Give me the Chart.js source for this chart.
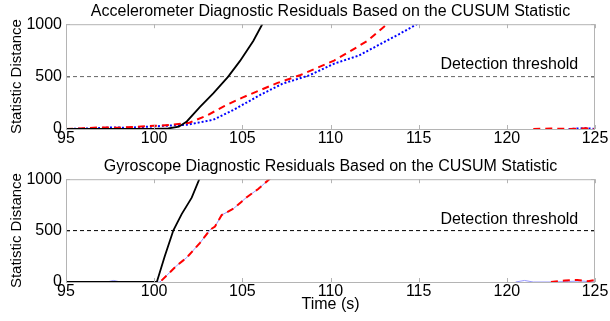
<!DOCTYPE html>
<html>
<head>
<meta charset="utf-8">
<script src="https://cdn.jsdelivr.net/npm/chart.js@4"></script>
<style>
  body { margin: 0; background: #fff; }
  .box { position: relative; width: 610px; }
  #top { height: 155px; }
  #bottom { height: 166px; }
</style>
</head>
<body>
<div class="box" id="top"><canvas id="accChart"></canvas></div>
<div class="box" id="bottom"><canvas id="gyrChart"></canvas></div>
<script>
// time axis and thresholds
const xTicks = [95, 100, 105, 110, 115, 120, 125];
const yTicks = [0, 500, 1000];
const threshold = 500;
const thresholdLabel = "Detection threshold";

// accelerometer residuals (top); null breaks the line
const accBlackT = [95, 100, 100.8, 101.4, 101.85, 102.6, 103.35, 104.2, 104.87, 105.62, 106.13, 106.4];
const accBlackY = [0, 0, 5, 22, 72, 210, 340, 500, 650, 840, 1000, 1060];
const accRedT = [95, 96, 97, 98, 99, 100, 101, 102, 103, 104, 105, 106, 107, 108.3, 109.2, 110.2, 111.1, 112.1, 113.2, 113.6, 113.7, 121.5, 122.5, 123.5, 124.5, 125];
const accRedY = [0, 8, 15, 12, 22, 30, 40, 60, 130, 220, 300, 370, 440, 515, 580, 653, 740, 842, 1000, 1050, null, 0, 5, 0, 6, 0];
const accBlueT = [95, 96.5, 97.5, 98.5, 99.5, 100.5, 101.85, 103.35, 104.5, 106, 107.3, 108.8, 110.2, 111.6, 113, 113.9, 114.9, 115.3, 115.4, 123.5, 124.5, 125];
const accBlueY = [0, 5, 15, 12, 20, 30, 40, 88, 182, 324, 434, 512, 623, 700, 826, 906, 1000, 1040, null, 0, 8, 0];

// gyroscope residuals (bottom)
const gyrBlackT = [95, 100.15, 100.6, 101.09, 101.56, 102.13, 102.56, 102.8];
const gyrBlackY = [0, 0, 250, 503, 660, 820, 1000, 1100];
const gyrRedT = [95, 100.33, 101.28, 101.85, 102.6, 103.17, 103.45, 103.83, 104.5, 105.25, 105.9, 106.53, 107, 107.1, 122.5, 123.3, 124, 124.6, 125];
const gyrRedY = [0, 0, 159, 238, 381, 508, 540, 651, 714, 825, 905, 1000, 1080, null, 0, 15, 20, 8, 18];
const gyrBlueT = [95, 97.3, 97.7, 98.1, 100.33, 101.28, 101.85, 102.6, 103.17, 103.45, 103.83, 104.5, 105.25, 105.9, 106.53, 107, 107.1, 120.5, 121, 121.5, 122.5, 123.5, 124.2, 125];
const gyrBlueY = [0, 0, 15, 0, 0, 159, 238, 381, 508, 540, 651, 714, 825, 905, 1000, 1080, null, 0, 15, 0, 0, 5, 10, 0];

const FONT = "'Liberation Sans', Arial, sans-serif";

function pts(t, y) {
  return t.map((v, i) => ({ x: v, y: y[i] }));
}

const framePlugin = {
  id: "frame",
  afterDatasetsDraw(chart) {
    const { ctx, chartArea: a, scales } = chart;
    ctx.save();
    ctx.font = "16px " + FONT;
    ctx.fillStyle = "#000";
    ctx.textAlign = "right";
    ctx.textBaseline = "middle";
    ctx.fillText(thresholdLabel, scales.x.getPixelForValue(124.05), scales.y.getPixelForValue(610));
    // box and inward ticks
    ctx.strokeStyle = "#b4b4b4";
    ctx.lineWidth = 1;
    ctx.strokeRect(a.left + 0.5, a.top + 0.5, a.right - a.left - 1, a.bottom - a.top);
    ctx.beginPath();
    xTicks.forEach(v => {
      const px = Math.round(scales.x.getPixelForValue(v)) + 0.5;
      ctx.moveTo(px, a.bottom); ctx.lineTo(px, a.bottom - 4);
      ctx.moveTo(px, a.top); ctx.lineTo(px, a.top + 4);
    });
    yTicks.forEach(v => {
      const py = Math.round(scales.y.getPixelForValue(v)) + 0.5;
      ctx.moveTo(a.left, py); ctx.lineTo(a.left + 4, py);
      ctx.moveTo(a.right, py); ctx.lineTo(a.right - 4, py);
    });
    ctx.stroke();
    ctx.restore();
  }
};

function makeChart(id, title, black, red, blue, blueStyle, threshColor, showXTitle, xHeight) {
  const datasets = [
    { data: black, borderColor: "#000", borderWidth: 1.8 },
    { data: red, borderColor: "#ff0000", borderWidth: 2, borderDash: [7, 5] },
    Object.assign({ data: blue }, blueStyle),
    { data: [{ x: 95, y: threshold }, { x: 125, y: threshold }], borderColor: threshColor, borderWidth: 1, borderDash: [4, 3] }
  ];
  return new Chart(document.getElementById(id), {
    type: "line",
    data: { datasets },
    options: {
      responsive: true,
      maintainAspectRatio: false,
      animation: false,
      spanGaps: false,
      elements: { point: { radius: 0 }, line: { tension: 0 } },
      layout: { padding: { left: 0, right: 15, top: 0, bottom: 0 } },
      plugins: {
        legend: { display: false },
        tooltip: { enabled: false },
        title: {
          display: true,
          fullSize: false,
          text: title,
          color: "#000",
          font: { family: FONT, size: 16, weight: "normal" },
          padding: { top: 2, bottom: 3 }
        }
      },
      scales: {
        x: {
          type: "linear",
          min: 95,
          max: 125,
          grid: { display: false, drawTicks: false },
          border: { display: false },
          afterBuildTicks: s => { s.ticks = xTicks.map(v => ({ value: v })); },
          ticks: { color: "#000", padding: 0, maxRotation: 0, font: { family: FONT, size: 16 } },
          title: {
            display: showXTitle,
            text: "Time (s)",
            color: "#000",
            padding: { top: 0, bottom: 7 },
            font: { family: FONT, size: 16 }
          },
          afterFit: s => { s.height = xHeight; }
        },
        y: {
          min: 0,
          max: 1000,
          grid: { display: false, drawTicks: false },
          border: { display: false },
          afterBuildTicks: s => { s.ticks = yTicks.map(v => ({ value: v })); },
          ticks: { color: "#000", padding: 4, font: { family: FONT, size: 16 }, callback: v => String(v) },
          title: {
            display: true,
            text: "Statistic Distance",
            color: "#000",
            padding: { top: 8, bottom: 0 },
            font: { family: FONT, size: 15 }
          },
          afterFit: s => { s.width = 66; }
        }
      }
    },
    plugins: [framePlugin]
  });
}

makeChart("accChart",
  "Accelerometer Diagnostic Residuals Based on the CUSUM Statistic",
  pts(accBlackT, accBlackY), pts(accRedT, accRedY), pts(accBlueT, accBlueY),
  { borderColor: "#0000ff", borderWidth: 2, borderDash: [2, 2] },
  "#666", false, 26);

makeChart("gyrChart",
  "Gyroscope Diagnostic Residuals Based on the CUSUM Statistic",
  pts(gyrBlackT, gyrBlackY), pts(gyrRedT, gyrRedY), pts(gyrBlueT, gyrBlueY),
  { borderColor: "#9999ff", borderWidth: 1 },
  "#000", true, 39);
</script>
</body>
</html>
